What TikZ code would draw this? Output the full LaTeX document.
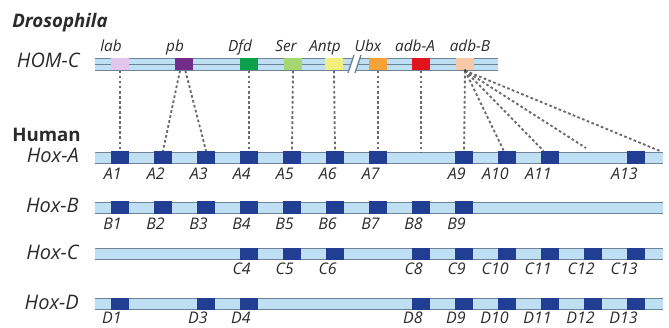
\documentclass[tikz,border=0pt]{standalone}
\usepackage{fontspec}
\setmainfont{Open Sans}
\usepackage{tikz}
\usetikzlibrary{positioning}
\usepackage{xcolor}

\definecolor{barblue}{HTML}{BEDFF4}
\definecolor{barline}{HTML}{6E8396}
\definecolor{hoxblue}{HTML}{223E92}
\definecolor{labcol}{HTML}{E4C4EA}
\definecolor{pbcol}{HTML}{732C8A}
\definecolor{dfdcol}{HTML}{0C9F4C}
\definecolor{sercol}{HTML}{A6D672}
\definecolor{antpcol}{HTML}{F3EF7E}
\definecolor{ubxcol}{HTML}{F4A338}
\definecolor{abdacol}{HTML}{E1141E}
\definecolor{abdbcol}{HTML}{F7C7A6}
\definecolor{txt}{HTML}{2B2B2B}

\tikzset{
  gene/.style={minimum width=13pt, minimum height=9.5pt, inner sep=0pt, draw=none},
  hox/.style={gene, fill=hoxblue},
  homlink/.style={draw=black!58, line width=1.4pt, dash pattern=on 2pt off 1.8pt},
  genelab/.style={font=\itshape\fontsize{12}{12}\selectfont, text=txt, inner sep=0pt, anchor=base east},
  toplab/.style={font=\itshape\fontsize{11.5}{12}\selectfont, text=txt, inner sep=0pt, anchor=base},
  rowlab/.style={font=\itshape\fontsize{15}{15}\selectfont, text=txt, inner sep=0pt, anchor=base east},
  title/.style={font=\bfseries\fontsize{14}{14}\selectfont, text=txt, inner sep=0pt, anchor=base west}
}

\begin{document}
\begin{tikzpicture}[x=0.75pt, y=-0.75pt]
    \useasboundingbox (0,0) rectangle (669,328);

    % Drosophila cluster
    \node[title, font=\bfseries\itshape\fontsize{14}{14}\selectfont] (dros) at (12,28) {Drosophila};
    \node[rowlab] (homc) at (80,68) {HOM-C};
    \fill[barblue] (95,58) rectangle (498,70);
    \draw[barline, line width=0.6pt] (95,58) -- (498,58) (95,64) -- (498,64) (95,70) -- (498,70);
    \foreach \g/\x/\c in {lab/120/labcol, pb/184/pbcol, dfd/249/dfdcol, ser/293/sercol,
                          antp/334/antpcol, ubx/378/ubxcol, abdA/421/abdacol, abdB/465/abdbcol} {
        \node[gene, fill=\c] (\g) at (\x,64) {};
    }
    % break in the cluster
    \fill[white] (348,73) -- (354,55) -- (361,55) -- (355,73) -- cycle;
    \draw[barline, line width=1pt] (348,73) -- (354,55) (355,73) -- (361,55);
    \foreach \g/\x/\t in {lab/111/lab, pb/175/pb, dfd/240/Dfd, ser/286/Ser,
                          antp/325/Antp, ubx/368/Ubx, abdA/415/adb-A, abdB/470/adb-B} {
        \node[toplab] (\g lab) at (\x,52) {\t};
    }

    % Human clusters
    \node[title] (human) at (12,142) {Human};
    \foreach \r/\y/\b in {A/157.5/163, B/207.5/213, C/254/260, D/304/310} {
        \node[rowlab] (hox\r) at (79,\b) {Hox-\r};
        \fill[barblue] (95,\y-5.5) rectangle (663,\y+5.5);
        \draw[barline, line width=0.6pt] (95,\y-5.5) -- (663,\y-5.5) (95,\y+5.5) -- (663,\y+5.5);
    }
    \foreach \i in {1,2,3,4,5,6,7,9,10,11,13} {
        \node[hox] (A\i) at ({120+(\i-1)*43},157.5) {};
        \node[genelab] (A\i lab) at ({122+(\i-1)*43},180) {A\i};
    }
    \foreach \i in {1,2,3,4,5,6,7,8,9} {
        \node[hox] (B\i) at ({120+(\i-1)*43},207.5) {};
        \node[genelab] (B\i lab) at ({122+(\i-1)*43},229) {B\i};
    }
    \foreach \i in {4,5,6,8,9,10,11,12,13} {
        \node[hox] (C\i) at ({120+(\i-1)*43},254) {};
        \node[genelab] (C\i lab) at ({122+(\i-1)*43},275) {C\i};
    }
    \foreach \i in {1,3,4,8,9,10,11,12,13} {
        \node[hox] (D\i) at ({120+(\i-1)*43},304) {};
        \node[genelab] (D\i lab) at ({122+(\i-1)*43},323.5) {D\i};
    }

    % homologies
    \coordinate (A8pos) at (421,152);
    \coordinate (A12pos) at (586,148);
    \coordinate (Aend) at (660,151);
    \draw[homlink] (lab.south) -- (A1.north);
    \draw[homlink] ([xshift=-3pt]pb.south) -- (A2.north);
    \draw[homlink] ([xshift=1pt]pb.south) -- (A3.north);
    \draw[homlink] (dfd.south) -- (A4.north);
    \draw[homlink] (ser.south) -- (A5.north);
    \draw[homlink] (antp.south) -- (A6.north);
    \draw[homlink] (ubx.south) -- (A7.north);
    \draw[homlink] (abdA.south) -- (A8pos);
    \foreach \t in {A9,A10,A11,A12pos,Aend} {
        \draw[homlink] (abdB.south) -- (\t);
    }
    \fill[black!75] (abdB.south) circle (1.2pt);
\end{tikzpicture}
\end{document}
